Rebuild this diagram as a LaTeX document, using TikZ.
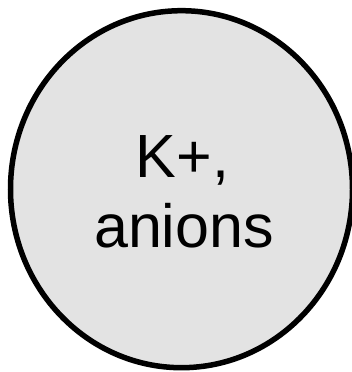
\documentclass[tikz,border=0pt]{standalone}
\usepackage{fontspec}
\setmainfont{Liberation Sans}
\begin{document}
\begin{tikzpicture}[x=1pt,y=1pt,
  cell/.style={draw=black, line width=5.5pt, fill=black!11},
  lbl/.style={inner sep=0pt, anchor=base, font=\fontsize{61}{70}\selectfont}]
\useasboundingbox (0,0) rectangle (352,372);
\draw[cell] (181.5,182.8) ellipse [x radius=171, y radius=178.5];
\node[lbl] (k) at (182.5,194) {K+,};
\node[lbl] (a) at (184,124) {anions};
\end{tikzpicture}
\end{document}
